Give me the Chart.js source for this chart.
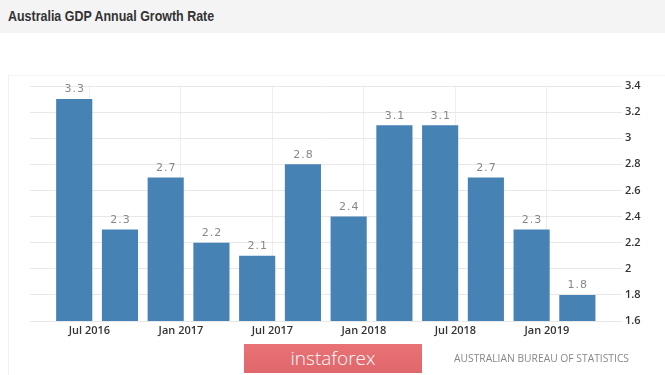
<!DOCTYPE html>
<html>
<head>
<meta charset="utf-8">
<script src="https://cdn.jsdelivr.net/npm/chart.js@4.4.1/dist/chart.umd.min.js"></script>
<style>
  body { margin:0; width:665px; height:375px; background:#fff; overflow:hidden; position:relative; font-family:"Open Sans", sans-serif; }
  #titlebar { position:absolute; left:0; top:0; width:665px; height:33px; background:#f4f4f4; }
  #titlebar span { position:absolute; left:8px; top:7px; font:bold 15px "Liberation Sans",Arial,sans-serif; color:#333; transform:scaleX(0.83); transform-origin:left center; white-space:nowrap; }
  #panel { position:absolute; left:8px; top:75px; width:665px; height:300px; border-left:1px solid #f1f1f1; border-top:1px solid #f4f4f4; }
  #wrap { position:absolute; left:0; top:0; width:665px; height:375px; }
  #logo { position:absolute; left:244px; top:344px; width:178px; height:29px; background:linear-gradient(#e87275,#e0676b); color:#fff; text-align:center; font:300 19px/29px "Open Sans",sans-serif; }
  #source { position:absolute; left:454px; top:351px; font:10.3px "Open Sans",sans-serif; color:#888; }
</style>
</head>
<body>
<div id="titlebar"><span>Australia GDP Annual Growth Rate</span></div>
<div id="panel"></div>
<div id="wrap"><canvas id="gdpChart" width="665" height="375"></canvas></div>
<div id="logo">instaforex</div>
<div id="source">AUSTRALIAN BUREAU OF STATISTICS</div>
<script>
// quarter end dates and growth rate (%)
const quarters = ['2016-06','2016-09','2016-12','2017-03','2017-06','2017-09','2017-12','2018-03','2018-06','2018-09','2018-12','2019-03'];
const growth = [3.3, 2.3, 2.7, 2.2, 2.1, 2.8, 2.4, 3.1, 3.1, 2.7, 2.3, 1.8];
const xTickDates = ['2016-07','2017-01','2017-07','2018-01','2018-07','2019-01'];
const xTickLabels = ['Jul 2016','Jan 2017','Jul 2017','Jan 2018','Jul 2018','Jan 2019'];
const yTicks = [1.6, 1.8, 2, 2.2, 2.4, 2.6, 2.8, 3, 3.2, 3.4];

// months counted from Jun 2016
const toMonth = (s) => {
  const p = s.split('-');
  return (parseInt(p[0]) - 2016) * 12 + parseInt(p[1]) - 6;
};

const points = quarters.map((q, i) => ({x: toMonth(q), y: growth[i]}));

const valueLabels = {
  id: 'valueLabels',
  afterDatasetsDraw(chart) {
    const ctx = chart.ctx;
    const meta = chart.getDatasetMeta(0);
    ctx.save();
    ctx.font = '11px "DejaVu Sans", sans-serif';
    ctx.fillStyle = '#888';
    ctx.textAlign = 'center';
    ctx.textBaseline = 'bottom';
    ctx.letterSpacing = '1px';
    meta.data.forEach((bar, i) => {
      ctx.fillText(String(growth[i]), bar.x + 0.5, bar.y - 4);
    });
    ctx.restore();
  }
};

new Chart('gdpChart', {
  type: 'bar',
  data: {
    datasets: [{
      data: points,
      backgroundColor: '#4682b4',
      borderWidth: 0,
      categoryPercentage: 1,
      barPercentage: 0.79
    }]
  },
  options: {
    responsive: false,
    animation: false,
    layout: { padding: { left: 30, top: 86, right: 0, bottom: 34 } },
    plugins: { legend: { display: false }, tooltip: { enabled: false } },
    scales: {
      x: {
        type: 'linear',
        offset: false,
        min: -2.9,
        max: 35.6,
        afterBuildTicks: (scale) => { scale.ticks = xTickDates.map(d => ({value: toMonth(d)})); },
        afterFit: (scale) => { scale.height = 20; },
        ticks: {
          autoSkip: false,
          maxRotation: 0,
          padding: 3,
          color: '#333',
          font: { family: '"Open Sans", sans-serif', size: 11, weight: '600' },
          callback: (v) => xTickLabels[xTickDates.map(toMonth).indexOf(v)]
        },
        grid: { color: '#eeeeee', drawTicks: false, offset: false },
        border: { display: false }
      },
      y: {
        position: 'right',
        min: 1.6,
        max: 3.4,
        afterBuildTicks: (scale) => { scale.ticks = yTicks.map(v => ({value: v})); },
        afterFit: (scale) => { scale.width = 48; },
        ticks: {
          padding: 3,
          color: '#333',
          font: { family: '"Open Sans", sans-serif', size: 11, weight: '600' },
          callback: (v) => String(v)
        },
        grid: { color: '#e8e8e8', tickLength: 5 },
        border: { display: false }
      }
    }
  },
  plugins: [valueLabels]
});
</script>
</body>
</html>
